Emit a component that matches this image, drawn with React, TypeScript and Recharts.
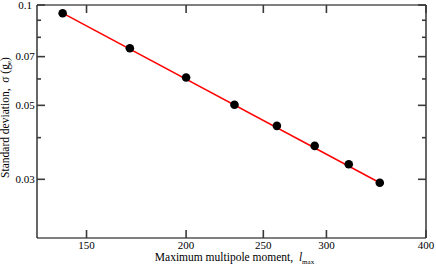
import React from 'react';
import { ComposedChart, Line, Scatter, XAxis, YAxis, Label } from 'recharts';

const lmax = [140, 170, 200, 230, 260, 290, 320, 350];
const sigma = [0.0945, 0.0742, 0.0606, 0.0502, 0.0434, 0.0378, 0.0333, 0.0293];
const fitLmax = [140, 350];
const fitSigma = [0.0945, 0.0293];
const xTicks = [150, 200, 250, 300, 400];
const yTicks = [0.03, 0.04, 0.05, 0.06, 0.07, 0.08, 0.09, 0.1];
const yLabeled = [0.03, 0.05, 0.07, 0.1];

const data = lmax.map((x, i) => {
  const k = fitLmax.indexOf(x);
  return { x, y: sigma[i], fit: k >= 0 ? fitSigma[k] : null };
});

const FONT = "'Liberation Serif', 'Times New Roman', serif";
const TICK_COLOR = '#3a3a3a';
const TICK_W = 1.6;
const MAJOR = 8;
const MINOR = 4;

const TickLine = ({ x1, x2, y1, y2 }: any) => (
  <line x1={x1} x2={x2} y1={y1} y2={y2} stroke={TICK_COLOR} strokeWidth={TICK_W} />
);

const bottomTick = (props: any) => {
  const { x, y, payload } = props;
  return (
    <g key={`b${payload.value}`}>
      <TickLine x1={x} x2={x} y1={y} y2={y - MAJOR} />
      <text x={x} y={y + 11} textAnchor="middle" fontFamily={FONT} fontSize={11} fill="#000">
        {String(payload.value)}
      </text>
    </g>
  );
};

const topTick = (props: any) => {
  const { x, y, payload } = props;
  return (
    <g key={`t${payload.value}`}>
      <TickLine x1={x} x2={x} y1={y} y2={y + MAJOR} />
    </g>
  );
};

const leftTick = (props: any) => {
  const { x, y, payload } = props;
  const major = yLabeled.includes(payload.value);
  return (
    <g key={`l${payload.value}`}>
      <TickLine x1={x} x2={x + (major ? MAJOR : MINOR)} y1={y} y2={y} />
      {major && (
        <text x={x - 12} y={y + 3.5} textAnchor="middle" fontFamily={FONT} fontSize={11} fill="#000">
          {String(payload.value)}
        </text>
      )}
    </g>
  );
};

const rightTick = (props: any) => {
  const { x, y, payload } = props;
  const major = yLabeled.includes(payload.value);
  return (
    <g key={`r${payload.value}`}>
      <TickLine x1={x} x2={x - (major ? MAJOR : MINOR)} y1={y} y2={y} />
    </g>
  );
};

const XTitle = (props: any) => {
  const vb = props.viewBox || {};
  const cx = vb.x + vb.width / 2 + 3;
  return (
    <text x={cx} y={vb.y + 22.5} textAnchor="middle" fontFamily={FONT} fontSize={11.5} fill="#000">
      Maximum multipole moment,{'\u00a0\u00a0'}
      <tspan fontStyle="italic">l</tspan>
      <tspan fontSize={7} dy={3}>max</tspan>
    </text>
  );
};

const YTitle = (props: any) => {
  const vb = props.viewBox || {};
  const cy = vb.y + vb.height / 2 - 4;
  const cx = 9;
  return (
    <text
      x={cx}
      y={cy}
      transform={`rotate(-90 ${cx} ${cy})`}
      textAnchor="middle"
      fontFamily={FONT}
      fontSize={11.5}
      fill="#000"
    >
      Standard deviation,{'\u00a0\u00a0'}σ{'\u00a0'}(g
      <tspan fontSize={7} dy={2}>e</tspan>
      <tspan dy={-2}>)</tspan>
    </text>
  );
};

export default function App() {
  return (
    <div style={{ position: 'absolute', left: 0, top: 0, width: 436, height: 267, background: '#fff' }}>
      <ComposedChart width={436} height={267} data={data} margin={{ top: 4, right: 9, bottom: 0, left: 0 }}>
        <XAxis
          xAxisId={0}
          dataKey="x"
          type="number"
          scale="log"
          domain={[130, 400]}
          allowDataOverflow
          ticks={xTicks}
          interval={0}
          height={29}
          tickSize={0}
          tickMargin={0}
          tickLine={false}
          axisLine={{ stroke: '#000', strokeWidth: 1.2 }}
          tick={bottomTick}
        >
          <Label content={<XTitle />} />
        </XAxis>
        <XAxis
          xAxisId="top"
          orientation="top"
          dataKey="x"
          type="number"
          scale="log"
          domain={[130, 400]}
          allowDataOverflow
          ticks={xTicks}
          interval={0}
          height={1}
          tickSize={0}
          tickMargin={0}
          tickLine={false}
          axisLine={{ stroke: '#000', strokeWidth: 1.2 }}
          tick={topTick}
        />
        <YAxis
          yAxisId={0}
          type="number"
          scale="log"
          domain={[0.02, 0.1]}
          allowDataOverflow
          ticks={yTicks}
          interval={0}
          width={37}
          tickSize={0}
          tickMargin={0}
          tickLine={false}
          axisLine={{ stroke: '#000', strokeWidth: 1.2 }}
          tick={leftTick}
        >
          <Label content={<YTitle />} />
        </YAxis>
        <YAxis
          yAxisId="right"
          orientation="right"
          type="number"
          scale="log"
          domain={[0.02, 0.1]}
          allowDataOverflow
          ticks={yTicks}
          interval={0}
          width={1}
          tickSize={0}
          tickMargin={0}
          tickLine={false}
          axisLine={{ stroke: '#000', strokeWidth: 1.2 }}
          tick={rightTick}
        />
        <Line
          xAxisId={0}
          yAxisId={0}
          dataKey="fit"
          type="linear"
          stroke="#ff0000"
          strokeWidth={1.5}
          dot={false}
          activeDot={false}
          connectNulls
          isAnimationActive={false}
        />
        <Scatter
          xAxisId={0}
          yAxisId={0}
          dataKey="y"
          fill="#000"
          isAnimationActive={false}
          shape={(p: any) => <circle cx={p.cx} cy={p.cy} r={4.3} fill="#000" />}
        />
      </ComposedChart>
    </div>
  );
}
